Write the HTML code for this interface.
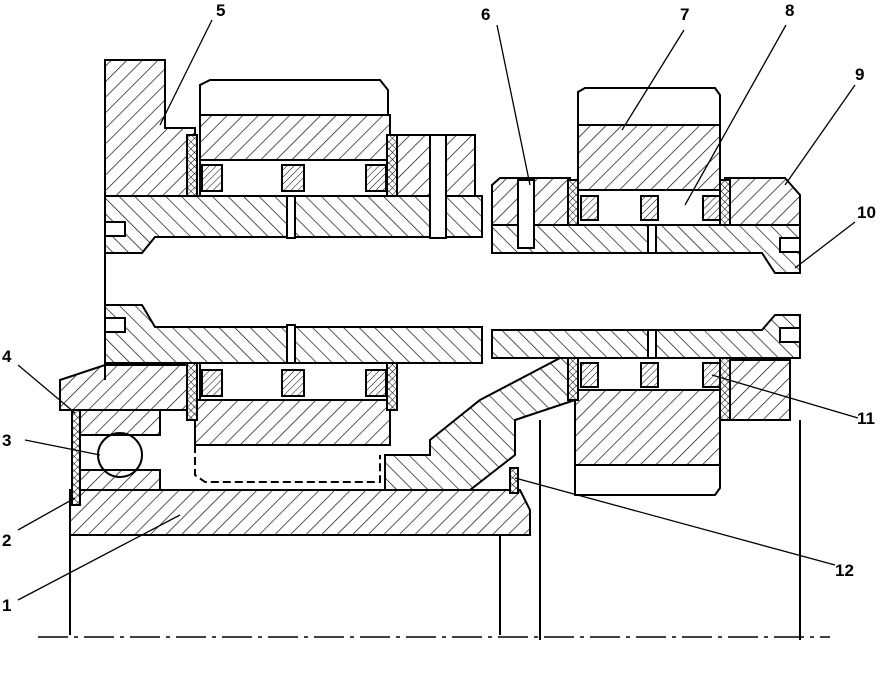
<!DOCTYPE html>
<html><head><meta charset="utf-8"><style>
html,body{margin:0;padding:0;background:#fff}
svg{display:block}
text{font-family:"Liberation Sans",sans-serif;font-weight:bold;font-size:17px;fill:#000}
</style></head><body>
<svg width="880" height="700" viewBox="0 0 880 700" xmlns="http://www.w3.org/2000/svg">
<defs>
<pattern id="h" width="11" height="11" patternUnits="userSpaceOnUse" patternTransform="rotate(45)">
<rect width="11" height="11" fill="#fff"/><line x1="0" y1="0" x2="0" y2="11" stroke="#000" stroke-width="1.3"/></pattern>
<pattern id="h2" width="11" height="11" patternUnits="userSpaceOnUse" patternTransform="rotate(-45)">
<rect width="11" height="11" fill="#fff"/><line x1="0" y1="0" x2="0" y2="11" stroke="#000" stroke-width="1.3"/></pattern>
<pattern id="hs" width="5" height="5" patternUnits="userSpaceOnUse" patternTransform="rotate(45)">
<rect width="5" height="5" fill="#fff"/><line x1="0" y1="0" x2="0" y2="5" stroke="#000"/></pattern>
<pattern id="x" width="5" height="5" patternUnits="userSpaceOnUse" patternTransform="rotate(45)">
<rect width="5" height="5" fill="#fff"/><line x1="0" y1="0" x2="0" y2="5" stroke="#000"/><line x1="0" y1="0" x2="5" y2="0" stroke="#000"/></pattern>
</defs>
<g stroke="#000" stroke-width="2" fill="url(#h)">
<path d="M105 60 H165 V128 H195 V196 H105 Z"/>
<path d="M390 135 H475 V196 H390 Z"/>
<path d="M60 380 L105 365 H195 V410 H60 Z"/>
<path d="M200 115 H390 V160 H200 Z"/>
<path d="M195 400 H390 V445 H195 Z"/>
<path d="M70 490 H520 L530 510 V535 H70 Z"/>
<path d="M80 410 H160 V435 H80 Z"/>
<path d="M80 470 H160 V490 H80 Z"/>
<path d="M578 125 H720 V190 H578 Z"/>
<path d="M575 390 H720 V465 H575 Z"/>
<path d="M725 178 H785 L800 195 V225 H725 Z"/>
<path d="M725 360 H790 V420 H725 Z"/>
<path d="M492 185 L500 178 H570 V225 H492 Z"/>
</g>
<g stroke="#000" stroke-width="2" fill="url(#h2)">
<path d="M105 196 H482 V237 H155 L142 253 H105 Z"/>
<path d="M105 305 H142 L155 327 H482 V363 H105 Z"/>
<path d="M492 225 H800 V273 H775 L762 253 H492 Z"/>
<path d="M492 330 H762 L775 315 H800 V358 H492 Z"/>
<path d="M430 440 L480 400 L560 358 H575 V400 L515 420 V455 L470 490 H385 V455 H430 Z"/>
</g>
<g stroke="#000" stroke-width="2" fill="none">
<path d="M105 196 V380"/>
<path d="M200 115 V85 L210 80 H380 L388 90 V115"/>
<path d="M578 125 V92 L585 88 H715 L720 95 V125"/>
<path d="M575 465 V495 H715 L720 488 V465"/>
<path d="M195 445 V475 L205 482 H380 V455" stroke-dasharray="8 4"/>
<rect x="200" y="160" width="190" height="36"/>
<rect x="200" y="363" width="190" height="37"/>
<rect x="575" y="190" width="150" height="35"/>
<rect x="575" y="358" width="150" height="32"/>
<circle cx="120" cy="455" r="22"/>
<line x1="70" y1="535" x2="70" y2="635"/><line x1="500" y1="535" x2="500" y2="635"/>
<line x1="540" y1="420" x2="540" y2="640"/><line x1="800" y1="420" x2="800" y2="640"/>
<line x1="38" y1="637" x2="830" y2="637" stroke-width="1.5" stroke-dasharray="30 6 4 6"/>
<rect x="287" y="196" width="8" height="42" fill="#fff"/><rect x="287" y="325" width="8" height="38" fill="#fff"/>
<rect x="648" y="225" width="8" height="28" fill="#fff"/><rect x="648" y="330" width="8" height="28" fill="#fff"/>
<rect x="430" y="135" width="16" height="103" fill="#fff"/><rect x="518" y="180" width="16" height="68" fill="#fff"/>
<rect x="105" y="222" width="20" height="14" fill="#fff"/><rect x="105" y="318" width="20" height="14" fill="#fff"/>
<rect x="780" y="238" width="20" height="14" fill="#fff"/><rect x="780" y="328" width="20" height="14" fill="#fff"/>
</g>
<g stroke="#000" stroke-width="2" fill="url(#x)">
<rect x="187" y="135" width="10" height="61"/><rect x="387" y="135" width="10" height="61"/>
<rect x="187" y="363" width="10" height="57"/><rect x="387" y="363" width="10" height="47"/>
<rect x="568" y="180" width="10" height="45"/><rect x="720" y="180" width="10" height="45"/>
<rect x="568" y="358" width="10" height="42"/><rect x="720" y="358" width="10" height="62"/>
<rect x="72" y="410" width="8" height="95"/><rect x="510" y="468" width="8" height="25"/>
</g>
<g stroke="#000" stroke-width="2" fill="url(#hs)">
<rect x="202" y="165" width="20" height="26"/><rect x="282" y="165" width="22" height="26"/><rect x="366" y="165" width="20" height="26"/>
<rect x="202" y="370" width="20" height="26"/><rect x="282" y="370" width="22" height="26"/><rect x="366" y="370" width="20" height="26"/>
<rect x="581" y="196" width="17" height="24"/><rect x="641" y="196" width="17" height="24"/><rect x="703" y="196" width="17" height="24"/>
<rect x="581" y="363" width="17" height="24"/><rect x="641" y="363" width="17" height="24"/><rect x="703" y="363" width="17" height="24"/>
</g>
<g stroke="#000" stroke-width="1.3">
<line x1="212" y1="20" x2="160" y2="125"/>
<line x1="497" y1="25" x2="530" y2="185"/>
<line x1="684" y1="30" x2="622" y2="130"/>
<line x1="786" y1="25" x2="685" y2="205"/>
<line x1="855" y1="85" x2="785" y2="185"/>
<line x1="855" y1="222" x2="795" y2="268"/>
<line x1="858" y1="418" x2="712" y2="375"/>
<line x1="835" y1="565" x2="515" y2="478"/>
<line x1="18" y1="365" x2="75" y2="413"/>
<line x1="25" y1="440" x2="100" y2="455"/>
<line x1="18" y1="530" x2="75" y2="498"/>
<line x1="18" y1="600" x2="180" y2="515"/>
</g>
<text x="216" y="16">5</text><text x="481" y="20">6</text><text x="680" y="20">7</text>
<text x="785" y="16">8</text><text x="855" y="80">9</text><text x="857" y="218">10</text>
<text x="857" y="424">11</text><text x="835" y="576">12</text>
<text x="2" y="362">4</text><text x="2" y="446">3</text><text x="2" y="546">2</text><text x="2" y="611">1</text>
</svg>
</body></html>
